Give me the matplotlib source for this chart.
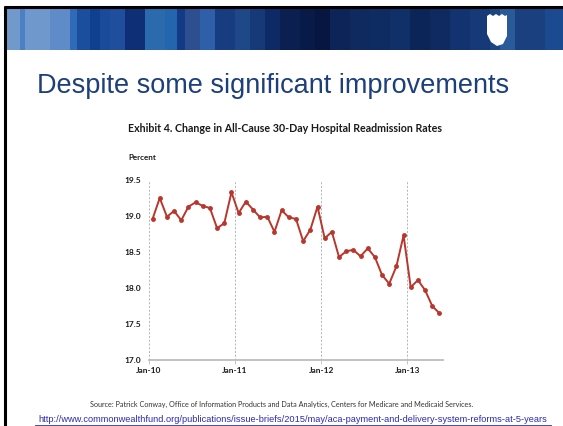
import matplotlib
matplotlib.use("Agg")
import matplotlib.pyplot as plt
import numpy as np
from matplotlib.patches import Rectangle, Polygon

# ---- data ----
values = [18.96, 19.25, 18.99, 19.07, 18.94, 19.13, 19.19, 19.14, 19.11, 18.83,
          18.90, 19.33, 19.04, 19.20, 19.09, 18.98, 18.99, 18.78, 19.08, 18.98,
          18.96, 18.65, 18.81, 19.13, 18.69, 18.78, 18.43, 18.51, 18.53, 18.44,
          18.55, 18.43, 18.18, 18.06, 18.30, 18.73, 18.01, 18.11, 17.97, 17.75,
          17.65]
month_index = list(range(len(values)))  # Jan 2010 ... May 2013
xtick_pos = [0, 12, 24, 36]
xtick_labels = ["Jan-10", "Jan-11", "Jan-12", "Jan-13"]
ytick_vals = [17.0, 17.5, 18.0, 18.5, 19.0, 19.5]

W, H = 563, 426
fig = plt.figure(figsize=(W / 100, H / 100), dpi=100)
fig.patch.set_facecolor("white")

# ---- slide decoration (pixel coordinate overlay) ----
deco = fig.add_axes([0, 0, 1, 1])
deco.set_xlim(0, W)
deco.set_ylim(H, 0)
deco.axis("off")

stripes = [
    (6, 20, "#7199cc"), (20, 25, "#4a80c4"), (25, 50, "#6f98cd"), (50, 70, "#5f8cc8"),
    (70, 77, "#2f6cb8"), (77, 90, "#1b4f9e"), (90, 100, "#0f3f8f"), (100, 110, "#1a4a9a"),
    (110, 125, "#1e4e9c"), (125, 145, "#0e2f75"), (145, 165, "#2a6aad"), (165, 177, "#2466ad"),
    (177, 185, "#123a85"), (185, 200, "#2d4f8f"), (200, 215, "#2f5fa8"), (215, 235, "#173c80"),
    (235, 250, "#1e4888"), (250, 265, "#163a78"), (265, 280, "#0e2a66"), (280, 300, "#0b2050"),
    (300, 315, "#071a48"), (315, 330, "#061640"), (330, 350, "#0c2458"), (350, 370, "#0f2a5e"),
    (370, 390, "#0f2c62"), (390, 410, "#10306a"), (410, 430, "#0c2558"), (430, 450, "#0e2a60"),
    (450, 470, "#123370"), (470, 490, "#163a78"), (490, 500, "#1c4584"), (500, 515, "#2a5a9a"),
    (515, 545, "#1a4080"), (545, 563, "#1c4a90"),
]
for x0, x1, c in stripes:
    deco.add_patch(Rectangle((x0, 8), x1 - x0, 42, color=c, lw=0))
# border lines
deco.plot([4.5, 4.5], [6, H], color="black", lw=2.2, solid_capstyle="butt")
deco.plot([4, W], [7, 7], color="black", lw=2.2, solid_capstyle="butt")
# logo
logo = Polygon([(487, 16), (490, 14), (493, 16), (496, 14), (499, 16), (502, 14), (505, 16),
                (507, 15), (507, 36), (503, 44), (497, 46), (491, 42), (487, 34)],
               closed=True, color="white", lw=0)
deco.add_patch(logo)

# slide title
fig.text(37 / W, 1 - 86 / H, "Despite some significant improvements",
         fontsize=19.5, color="#1d3f7c", family="Liberation Sans", va="center", ha="left")
# chart title
fig.text(128 / W, 1 - 128 / H, "Exhibit 4. Change in All-Cause 30-Day Hospital Readmission Rates",
         fontsize=7.65, color="#1a1a1a", family="Lato", weight="bold", va="center", ha="left")
fig.text(128 / W, 1 - 158 / H, "Percent", fontsize=5.8, color="#1a1a1a", family="Lato",
         weight="bold", va="center", ha="left")
# source & URL
fig.text(282 / W, 1 - 404 / H,
         "Source: Patrick Conway, Office of Information Products and Data Analytics, Centers for Medicare and Medicaid Services.",
         fontsize=5.2, color="#333333", family="Lato", va="center", ha="center")
fig.text(293 / W, 1 - 420 / H,
         "http://www.commonwealthfund.org/publications/issue-briefs/2015/may/aca-payment-and-delivery-system-reforms-at-5-years",
         fontsize=6.7, color="#2b2bb0", family="Liberation Sans", va="center", ha="center")
deco.plot([35, 551], [424.5, 424.5], color="#2b2bb0", lw=0.6)

# ---- chart ----
ax = fig.add_axes([149 / W, 1 - 360 / H, (443 - 149) / W, 180 / H])
ax.set_xlim(0, 41)
ax.set_ylim(17.0, 19.5)
xs = [m + 0.5 for m in month_index]
ax.plot(xs, values, color="#b8362c", lw=1.4, marker="o", markersize=3.5,
        markerfacecolor="#b8362c", markeredgewidth=0, zorder=3)
for xp in xtick_pos:
    ax.axvline(xp, color="#aaaaaa", lw=0.6, ls=(0, (2.5, 2)), zorder=1)
for s in ["top", "right", "left"]:
    ax.spines[s].set_visible(False)
ax.spines["bottom"].set_color("#bdbdbd")
ax.spines["bottom"].set_linewidth(1.3)
ax.set_xticks(xtick_pos)
ax.set_xticklabels(xtick_labels)
ax.set_yticks(ytick_vals)
ax.set_yticklabels([f"{v:.1f}" for v in ytick_vals])
ax.tick_params(axis="x", length=3, width=0.6, color="#bdbdbd", pad=2, labelsize=6.0)
ax.tick_params(axis="y", length=0, pad=6, labelsize=6.0)
for lab in ax.get_xticklabels() + ax.get_yticklabels():
    lab.set_family("Lato")
    lab.set_weight("bold")
    lab.set_color("#1a1a1a")

fig.savefig("out.png", dpi=100)
